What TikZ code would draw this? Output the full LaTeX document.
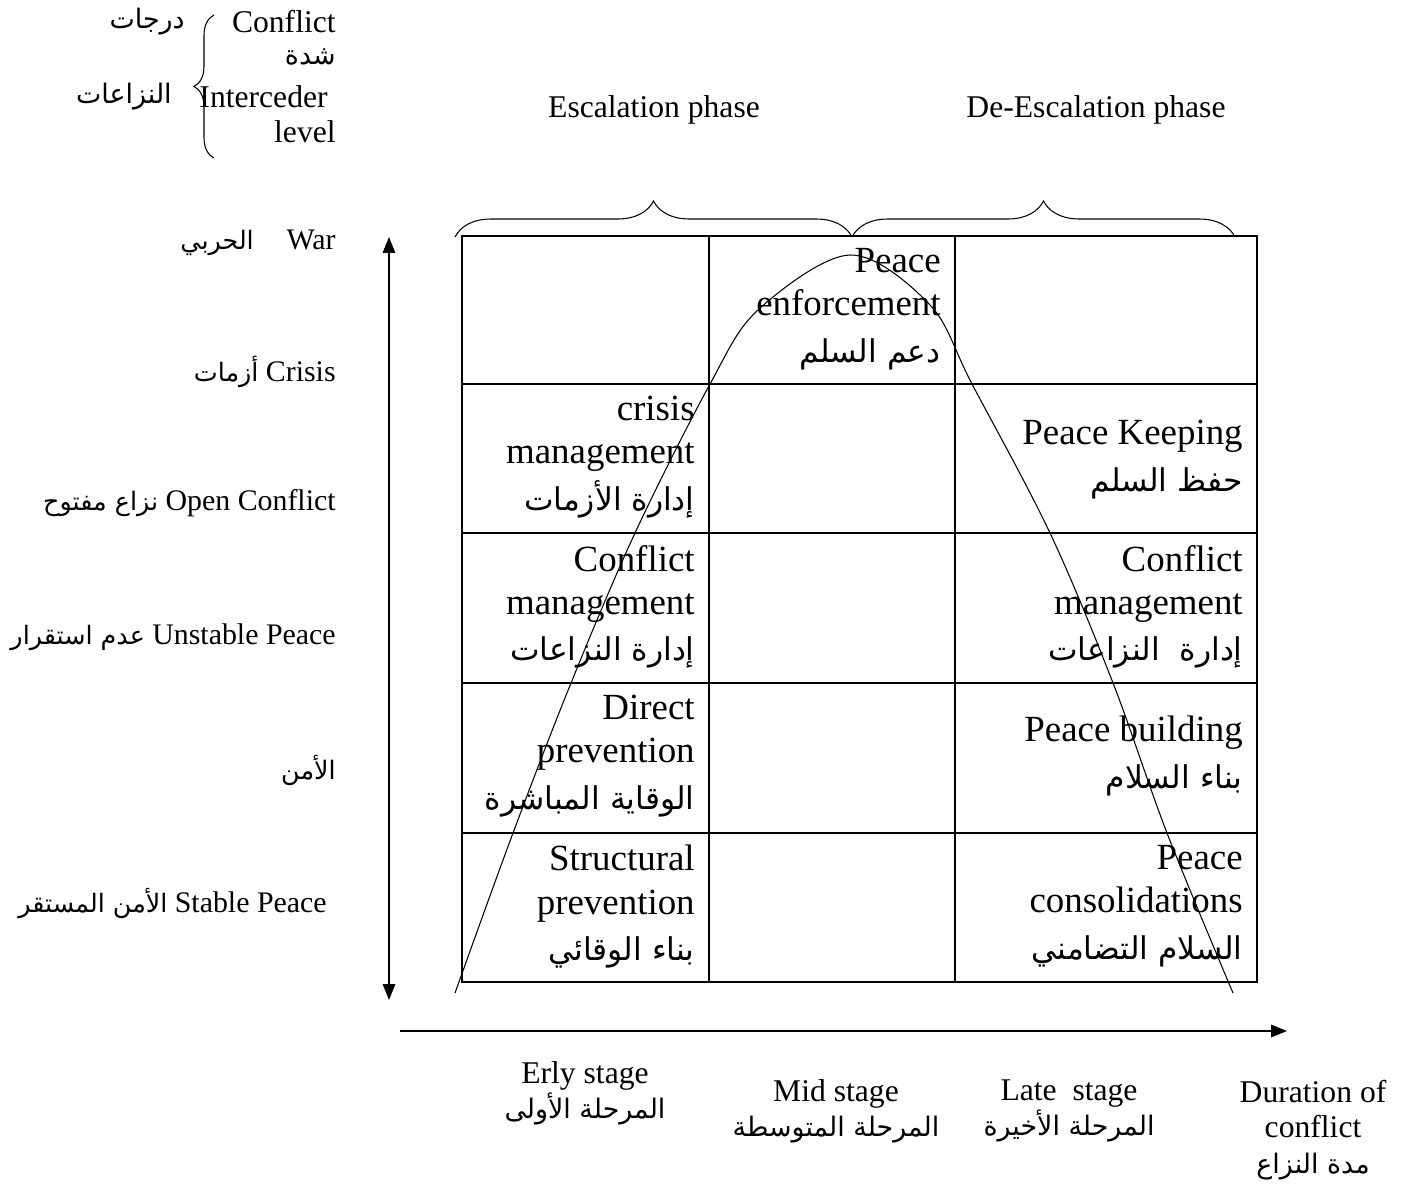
\documentclass[tikz,border=0pt]{standalone}
\usepackage{fontspec}
\setmainfont{Liberation Serif}
\newfontfamily\arabicfont[Script=Arabic,Scale=0.85]{DejaVu Sans}
\TeXXeTstate=1
\usetikzlibrary{arrows.meta,decorations.pathreplacing,positioning}
\newcommand{\artext}[1]{{\arabicfont\beginR #1\endR}}

\begin{document}
\begin{tikzpicture}[x=0.02cm, y=-0.02cm, >={Stealth[length=9pt,width=7pt,inset=0pt]},
	every node/.style={inner sep=0pt, font=\fontsize{18}{21}\selectfont},
	celltext/.style={anchor=north east, align=right, font=\fontsize{21}{24.5}\selectfont},
	levellabel/.style={anchor=east, font=\fontsize{17}{20}\selectfont},
	stagelabel/.style={align=center, font=\fontsize{18}{20}\selectfont},
	gridline/.style={line width=1.1pt},
	axis/.style={line width=1.1pt},
	bracket/.style={line width=0.6pt, decorate}]

	\useasboundingbox (0,0) rectangle (1405,1186);

	% grid of the stages
	\draw[gridline] (462,236) rectangle (1257,982);
	\foreach \x in {709,955} \draw[gridline] (\x,236) -- (\x,982);
	\foreach \y in {384,533,683,833} \draw[gridline] (462,\y) -- (1257,\y);

	% axes
	\coordinate (ytop) at (389,237);
	\coordinate (ybot) at (389,1000);
	\coordinate (xstart) at (400,1031);
	\coordinate (xend) at (1287,1031);
	\draw[axis, <->] (ybot) -- (ytop);
	\draw[axis, ->] (xstart) -- (xend);

	% conflict curve
	\draw[line width=0.6pt] plot[smooth, tension=0.55] coordinates {(455,993) (513,833) (571,683) (635,533) (710,384) (758,310) (850,255) (930,305) (972,384) (1050,533) (1113,683) (1167,833) (1233,993)};

	% braces
	\draw[bracket, decoration={brace, amplitude=0.72cm}] (455,237) -- (852,237);
	\draw[bracket, decoration={brace, amplitude=0.72cm}] (852,237) -- (1235,237);
	\draw[bracket, decoration={brace, amplitude=0.4cm}] (214,158) -- (214,15);

	% heading
	\node[anchor=east] (conflict) at (336,22) {Conflict};
	\node[anchor=east] (shidda) at (336,57) {\artext{شدة}};
	\node[anchor=east] (interceder) at (328,97) {Interceder};
	\node[anchor=east] (level) at (336,132) {level};
	\node[anchor=east] (darajat) at (185,22) {\artext{درجات}};
	\node[anchor=east] (nizaat) at (172,97) {\artext{النزاعات}};

	\node (escal) at (654,110) {Escalation phase};
	\node (deescal) at (1096,110) {De-Escalation phase};

	% levels
	\node[levellabel] (war) at (336,243) {\artext{الحربي}\hspace{1.1em}War};
	\node[levellabel] (crisis) at (336,372) {\artext{أزمات} Crisis};
	\node[levellabel] (open) at (336,503) {\artext{نزاع مفتوح} Open Conflict};
	\node[levellabel] (unstable) at (336,637) {\artext{عدم استقرار} Unstable Peace};
	\node[levellabel] (amn) at (336,770) {\artext{الأمن}};
	\node[levellabel] (stable) at (327,903) {\artext{الأمن المستقر} Stable Peace};

	% cells
	\node[celltext] (enforce) at (941,248) {Peace\\enforcement\\[2pt]\artext{دعم السلم}};
	\node[celltext] (crisismng) at (695,396) {crisis\\management\\[2pt]\artext{إدارة الأزمات}};
	\node[celltext] (keeping) at (1243,420) {Peace Keeping\\[2pt]\artext{حفظ السلم}};
	\node[celltext] (conflmng) at (695,545) {Conflict\\management\\[2pt]\artext{إدارة النزاعات}};
	\node[celltext] (conflmngb) at (1243,545) {Conflict\\management\\[2pt]\artext{إدارة~~النزاعات}};
	\node[celltext] (direct) at (695,695) {Direct\\prevention\\[2pt]\artext{الوقاية المباشرة}};
	\node[celltext] (building) at (1243,716) {Peace building\\[2pt]\artext{بناء السلام}};
	\node[celltext] (structural) at (695,845) {Structural\\prevention\\[2pt]\artext{بناء الوقائي}};
	\node[celltext] (consol) at (1243,845) {Peace\\consolidations\hspace*{0.3em}\\[2pt]\artext{السلام التضامني}};

	% stages
	\node[stagelabel] (early) at (585,1093) {Erly stage\\\artext{المرحلة الأولى}};
	\node[stagelabel] (mid) at (836,1111) {Mid stage\\\artext{المرحلة المتوسطة}};
	\node[stagelabel] (late) at (1069,1111) {Late\ \ stage\\\artext{المرحلة الأخيرة}};
	\node[stagelabel] (duration) at (1313,1130) {Duration of\\conflict\\\artext{مدة النزاع}};

\end{tikzpicture}
\end{document}
